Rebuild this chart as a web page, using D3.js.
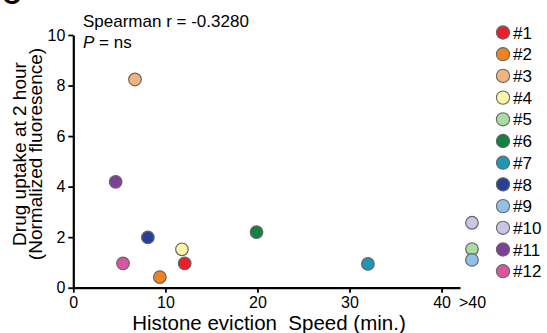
<!DOCTYPE html>
<html>
<head>
<meta charset="utf-8">
<script src="https://cdn.jsdelivr.net/npm/d3@7"></script>
<style>
  body { margin: 0; background: #fff; }
  svg text { font-family: "Liberation Sans", Arial, sans-serif; fill: #000; }
</style>
</head>
<body>
<svg id="chart" width="547" height="333"></svg>
<script>
// samples #1..#12
var ids = ["#1", "#2", "#3", "#4", "#5", "#6", "#7", "#8", "#9", "#10", "#11", "#12"];
// histone eviction speed (min.); null means ">40"
var speed = [12.1, 9.4, 6.7, 11.8, null, 19.9, 32.0, 8.1, null, null, 4.6, 5.4];
// drug uptake at 2 hour (normalized fluoresence)
var uptake = [0.96, 0.42, 8.24, 1.52, 1.53, 2.2, 0.94, 1.99, 1.1, 2.57, 4.19, 0.96];
var colors = ["#e8202a", "#f0821f", "#f2b47c", "#fbf7a9", "#a9dba2", "#138142",
              "#2096b6", "#26409a", "#93c0ea", "#c9c5e5", "#7e3f98", "#d8569f"];

var xTicks = [0, 10, 20, 30, 40];
var yTicks = [0, 2, 4, 6, 8, 10];
var overLabel = ">40";
var overPos = 43.3;   // where the ">40" group sits on the x scale

var svg = d3.select("#chart");

var x = d3.scaleLinear().domain([0, 42]).range([73.3, 460]);
var y = d3.scaleLinear().domain([0, 10]).range([287.7, 35]);

// panel letter, cut off by the top edge as in the source figure
svg.append("text")
    .attr("x", 2).attr("y", 4)
    .attr("font-size", 26).attr("font-weight", "bold")
    .text("C");

// x axis
var xAxis = svg.append("g")
    .attr("transform", "translate(0," + y(0) + ")")
    .call(d3.axisBottom(x)
      .tickValues(xTicks.concat([overPos]))
      .tickFormat(function(d) { return d === overPos ? overLabel : d; })
      .tickSize(5).tickSizeOuter(0).tickPadding(4));
xAxis.selectAll(".tick").filter(function(d) { return d === overPos; })
    .select("line").remove();

// y axis
var yAxis = svg.append("g")
    .attr("transform", "translate(" + x(0) + ",0)")
    .call(d3.axisLeft(y).tickValues(yTicks).tickSize(5).tickSizeOuter(0).tickPadding(3));

[xAxis, yAxis].forEach(function(g) {
  g.select(".domain").attr("stroke-width", 2.2);
  g.selectAll(".tick line").attr("stroke-width", 1.8);
  g.selectAll(".tick text").attr("font-size", 16)
    .attr("font-family", "Liberation Sans, Arial, sans-serif");
});

// axis titles
svg.append("text")
    .attr("x", 269).attr("y", 330)
    .attr("text-anchor", "middle")
    .attr("font-size", 20.5)
    .attr("xml:space", "preserve")
    .text("Histone eviction  Speed (min.)");

var yt = svg.append("text")
    .attr("transform", "translate(0,154) rotate(-90)")
    .attr("text-anchor", "middle")
    .attr("font-size", 19);
yt.append("tspan").attr("x", 0).attr("y", 26).text("Drug uptake at 2 hour");
yt.append("tspan").attr("x", 0).attr("y", 42).text("(Normalized fluoresence)");

// stats
svg.append("text")
    .attr("x", 83).attr("y", 27)
    .attr("font-size", 17)
    .text("Spearman r = -0.3280");
var pt = svg.append("text")
    .attr("x", 83).attr("y", 48)
    .attr("font-size", 17);
pt.append("tspan").attr("font-style", "italic").text("P");
pt.append("tspan").text(" = ns");

// points
svg.append("g").selectAll("circle")
    .data(ids)
    .enter().append("circle")
      .attr("cx", function(d, i) { return x(speed[i] === null ? overPos : speed[i]); })
      .attr("cy", function(d, i) { return y(uptake[i]); })
      .attr("r", 6.3)
      .attr("fill", function(d, i) { return colors[i]; })
      .attr("stroke", "#666")
      .attr("stroke-width", 1.2);

// legend
var legend = svg.append("g").selectAll("g")
    .data(ids)
    .enter().append("g")
      .attr("transform", function(d, i) { return "translate(503," + (32.5 + i * 21.7) + ")"; });

legend.append("circle")
    .attr("r", 6.6)
    .attr("fill", function(d, i) { return colors[i]; })
    .attr("stroke", "#666")
    .attr("stroke-width", 1.1);

legend.append("text")
    .attr("x", 10)
    .attr("dy", "0.36em")
    .attr("font-size", 17)
    .text(function(d) { return d; });
</script>
</body>
</html>
